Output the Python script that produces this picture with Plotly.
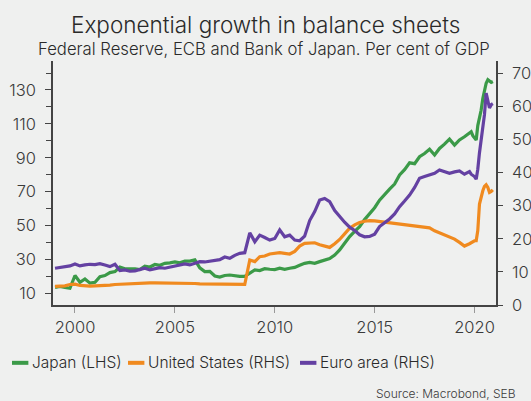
import pandas as pd
import plotly.graph_objects as go

# quarterly points to 2019-10, monthly from 2019-11
dates = list(pd.date_range("1999-01-01", "2019-10-01", freq="QS")) + \
        list(pd.date_range("2019-11-01", "2020-12-01", freq="MS"))

# Bank of Japan, % of GDP (LHS)
japan = [
    13.5, 14.0, 13.5, 13.0,
    20.5, 16.5, 18.5, 16.0,
    16.5, 19.8, 20.5, 22.2,
    22.8, 25.5, 24.5, 24.5,
    24.5, 24.0, 26.0, 25.5,
    27.0, 26.5, 27.7, 28.0,
    28.5, 28.0, 29.0, 29.0,
    29.7, 25.0, 22.8, 23.0,
    20.2, 19.6, 20.5, 20.8,
    20.3, 20.0, 20.0, 22.0,
    23.8, 23.4, 24.5, 24.2,
    24.0, 24.8, 24.2, 24.8,
    25.3, 26.5, 27.7, 28.2,
    27.7, 28.7, 29.7, 30.5,
    32.6, 35.6, 39.5, 43.5,
    46.5, 49.3, 53.5, 57.0,
    60.5, 65.0, 68.5, 71.5,
    74.5, 79.8, 83.0, 87.0,
    86.5, 90.6, 92.5, 95.0,
    91.6, 95.5, 98.0, 101.0,
    97.5, 100.5, 102.4, 105.0,
    105.4, 103.0, 101.5, 100.5, 109.0, 113.0, 118.0,
    125.0, 129.0, 134.0, 136.0, 135.0, 134.5, 135.0,
]

# Federal Reserve, % of GDP (RHS)
united_states = [
    5.6, 5.7, 5.8, 6.2,
    6.3, 5.9, 5.7, 5.7,
    5.8, 5.8, 5.9, 6.0,
    6.2, 6.3, 6.3, 6.4,
    6.5, 6.5, 6.7, 6.7,
    6.7, 6.7, 6.7, 6.6,
    6.6, 6.6, 6.5, 6.5,
    6.5, 6.4, 6.4, 6.4,
    6.3, 6.3, 6.3, 6.2,
    6.2, 6.2, 6.2, 13.6,
    13.1, 14.6, 14.8, 15.4,
    15.6, 15.8, 15.6, 15.4,
    16.2, 17.8, 18.6, 18.6,
    18.8, 18.2, 17.8, 17.4,
    18.5, 19.8, 21.5, 23.2,
    24.2, 24.9, 25.3, 25.5,
    25.4, 25.2, 25.0, 24.8,
    24.6, 24.5, 24.3, 24.2,
    24.0, 23.8, 23.6, 23.3,
    22.4, 21.8, 21.1, 20.4,
    19.9, 18.9, 17.8, 18.5,
    18.8, 19.1, 19.4, 19.4, 22.5, 30.5, 33.0,
    34.5, 35.8, 36.3, 35.5, 34.0, 34.3, 34.8,
]

# ECB, % of GDP (RHS)
euro_area = [
    11.1, 11.4, 11.6, 11.8,
    12.4, 11.8, 12.1, 12.3,
    12.2, 12.5, 12.1, 11.6,
    12.3, 10.4, 10.6, 10.2,
    10.3, 10.6, 11.1, 10.6,
    11.0, 11.3, 11.1, 11.4,
    11.6, 12.0, 12.4, 12.1,
    12.6, 13.1, 13.0, 13.3,
    13.5, 13.7, 14.5, 14.1,
    15.0, 15.6, 15.8, 21.8,
    19.1, 21.1, 20.4, 19.6,
    20.1, 22.7, 20.6, 21.1,
    19.6, 19.4, 20.8, 25.5,
    28.2, 31.7, 32.2, 31.2,
    28.5, 26.7, 25.0, 23.5,
    22.5, 21.2, 20.6, 20.7,
    21.4, 23.7, 24.8, 26.0,
    27.5, 29.7, 31.4, 33.2,
    35.5, 38.3, 38.8, 39.2,
    39.8, 40.8, 40.3, 39.8,
    40.2, 40.5, 39.5, 40.3,
    39.5, 39.1, 38.8, 38.0, 41.0, 46.0, 50.0,
    54.0, 57.5, 64.0, 62.0, 59.5, 60.5, 60.8,
]

series_names = ["Japan (LHS)", "United States (RHS)", "Euro area (RHS)"]
colors = ["#3b9a48", "#f08a1f", "#6441a2"]

FONT = "Inter"
INK = "#3a3a3a"
BG = "#eff0ef"

fig = go.Figure()
fig.add_trace(go.Scatter(x=dates, y=japan, name=series_names[0], mode="lines",
                         line=dict(color=colors[0], width=3.2), yaxis="y"))
fig.add_trace(go.Scatter(x=dates, y=united_states, name=series_names[1], mode="lines",
                         line=dict(color=colors[1], width=3.2), yaxis="y2"))
fig.add_trace(go.Scatter(x=dates, y=euro_area, name=series_names[2], mode="lines",
                         line=dict(color=colors[2], width=3.2), yaxis="y2"))

axis_common = dict(showgrid=False, zeroline=False, automargin=False,
                   showline=True, linecolor="#444", linewidth=1.5,
                   tickfont=dict(size=16.5, color=INK, weight=300))

fig.update_layout(
    width=531, height=401,
    margin=dict(l=53, r=35, t=61, b=96, autoexpand=False),
    paper_bgcolor=BG, plot_bgcolor=BG,
    showlegend=False,
    font=dict(family=FONT, color=INK, size=15, weight=300),
    xaxis=dict(type="date", range=["1998-11-25", "2021-01-28"],
               tick0="2000-01-01", dtick="M60", tickformat="%Y",
               ticks="outside", ticklen=6, tickcolor="#999",
               ticklabelstandoff=0, **axis_common),
    yaxis=dict(range=[3.1, 147.1], tickvals=[10, 30, 50, 70, 90, 110, 130],
               minor=dict(tickvals=[20, 40, 60, 80, 100, 120, 140],
                          ticks="outside", ticklen=5, tickcolor="#444"),
               ticks="outside", ticklen=6, tickcolor="#444",
               ticklabelstandoff=6, **axis_common),
    yaxis2=dict(range=[0, 73.7], overlaying="y", side="right",
                tickvals=[0, 10, 20, 30, 40, 50, 60, 70],
                ticks="outside", ticklen=5, tickcolor="#444",
                ticklabelstandoff=6, **axis_common),
)

# titles
fig.add_annotation(text="Exponential growth in balance sheets", xref="paper", yref="paper",
                   x=0.479, y=1.15, xanchor="center", yanchor="middle",
                   showarrow=False, font=dict(size=22.5, color="#2a2a2a", weight=300))
fig.add_annotation(text="Federal Reserve, ECB and Bank of Japan. Per cent of GDP",
                   xref="paper", yref="paper", x=0.477, y=1.049,
                   xanchor="center", yanchor="middle", showarrow=False,
                   font=dict(size=16.7, color="#2a2a2a", weight=300))

# legend drawn by hand to get short swatches
swatch_x = [-0.0926, 0.1693, 0.5576]
for name, col, x0 in zip(series_names, colors, swatch_x):
    fig.add_shape(type="line", xref="paper", yref="paper",
                  x0=x0, x1=x0 + 0.037, y0=-0.237, y1=-0.237,
                  line=dict(color=col, width=4))
    fig.add_annotation(text=name, xref="paper", yref="paper",
                       x=x0 + 0.043, y=-0.237, xanchor="left", yanchor="middle",
                       showarrow=False, borderpad=0,
                       font=dict(size=15.5, color="#2a2a2a", weight=300))

fig.add_annotation(text="Source: Macrobond, SEB", xref="paper", yref="paper",
                   x=1.047, y=-0.362, xanchor="right", yanchor="middle",
                   showarrow=False, borderpad=0,
                   font=dict(size=12, color="#3a3a3a", weight=300))

# drop the browser's default body margin so the figure sits at the page corner
fig.write_html("out.html", config={"displayModeBar": False},
               post_script="document.body.style.margin='0';"
                           "document.body.style.background='#eff0ef';")
